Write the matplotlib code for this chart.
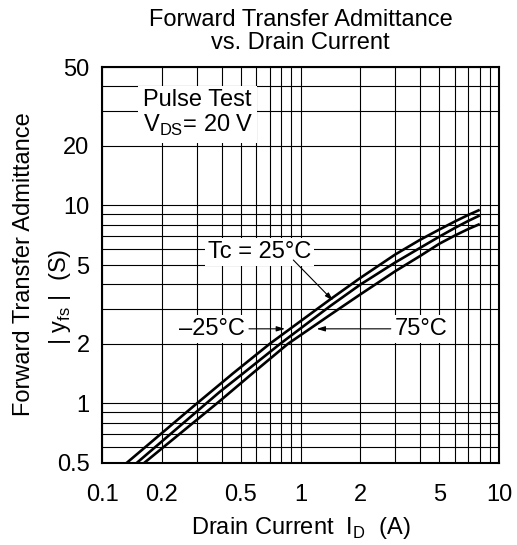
import matplotlib
matplotlib.use("Agg")
import matplotlib.pyplot as plt
from matplotlib.ticker import FixedLocator, NullFormatter

plt.rcParams['font.family'] = ['Liberation Sans', 'DejaVu Sans']
plt.rcParams['mathtext.fontset'] = 'custom'
plt.rcParams['mathtext.rm'] = 'Liberation Sans'

# drain current (A) and |yfs| (S)
id_m25 = [0.133, 0.29, 0.393, 0.458, 0.70, 1.41, 2, 3, 4, 5, 6, 7, 8]
yfs_m25 = [0.5, 0.97, 1.25, 1.42, 2.0, 3.35, 4.3, 5.65, 6.7, 7.55, 8.3, 8.95, 9.5]
id_25 = [0.1495, 0.393, 0.515, 0.79, 1.41, 2, 3, 4, 5, 6, 7, 8]
yfs_25 = [0.5, 1.146, 1.42, 2.0, 3.1, 3.98, 5.15, 6.1, 6.95, 7.7, 8.35, 8.9]
id_75 = [0.163, 0.393, 0.574, 0.865, 1.41, 2, 3, 4, 5, 6, 7, 8]
yfs_75 = [0.5, 1.03, 1.42, 2.0, 2.8, 3.55, 4.65, 5.55, 6.4, 7.05, 7.6, 8.05]

xticks = [0.1, 0.2, 0.5, 1, 2, 5, 10]
xlabels = ['0.1', '0.2', '0.5', '1', '2', '5', '10']
yticks = [0.5, 1, 2, 5, 10, 20, 50]
ylabels = ['0.5', '1', '2', '5', '10', '20', '50']
xgrid = [0.3, 0.4, 0.6, 0.7, 0.8, 0.9, 3, 4, 6, 7, 8, 9]
ygrid = [0.6, 0.7, 0.8, 0.9, 3, 4, 6, 7, 8, 9, 30, 40]

fs = 17
fig = plt.figure(figsize=(5.17, 5.45), dpi=100)
ax = fig.add_axes([0.1973, 0.1505, 0.7679, 0.7265])
ax.set_xscale('log')
ax.set_yscale('log')
ax.set_xlim(0.1, 10)
ax.set_ylim(0.5, 50)

ax.xaxis.set_major_locator(FixedLocator(xticks))
ax.xaxis.set_minor_locator(FixedLocator(xgrid))
ax.yaxis.set_major_locator(FixedLocator(yticks))
ax.yaxis.set_minor_locator(FixedLocator(ygrid))
ax.set_xticklabels(xlabels)
ax.set_yticklabels(ylabels)
ax.xaxis.set_minor_formatter(NullFormatter())
ax.yaxis.set_minor_formatter(NullFormatter())
ax.tick_params(which='both', length=0, labelsize=fs, colors='black')
ax.tick_params(axis='x', pad=15)
ax.tick_params(axis='y', pad=9)
ax.grid(True, which='both', color='black', lw=0.8)
ax.set_axisbelow(True)
for s in ax.spines.values():
    s.set_linewidth(1.5)

for xs, ys in [(id_m25, yfs_m25), (id_25, yfs_25), (id_75, yfs_75)]:
    ax.plot(xs, ys, color='black', lw=1.9, solid_capstyle='butt')

box = dict(facecolor='white', edgecolor='none', pad=2)
arr = dict(arrowstyle='-|>,head_length=0.5,head_width=0.15', color='black', lw=0.8,
           shrinkA=0, shrinkB=0)

ax.text(0.16, 29, 'Pulse Test\nV$_{\\mathregular{DS}}$= 20 V', fontsize=fs, ha='left', va='center',
        linespacing=1.1, bbox=dict(facecolor='white', edgecolor='none', pad=3))

ax.text(0.62, 5.8, 'Tc = 25°C', fontsize=fs, ha='center', va='center', bbox=box)
ax.annotate('', xy=(1.46, 3.3), xytext=(0.92, 5.3), arrowprops=arr)

ax.text(0.36, 2.38, '\u201325°C', fontsize=fs, ha='center', va='center', bbox=box)
ax.annotate('', xy=(0.836, 2.38), xytext=(0.55, 2.38), arrowprops=arr)

ax.text(4.04, 2.38, '75°C', fontsize=fs, ha='center', va='center', bbox=box)
ax.annotate('', xy=(1.205, 2.38), xytext=(2.85, 2.38), arrowprops=arr)

fig.text(0.581, 0.963, 'Forward Transfer Admittance', fontsize=fs, ha='center', va='center')
fig.text(0.581, 0.921, 'vs. Drain Current', fontsize=fs, ha='center', va='center')

fig.text(0.581, 0.031, 'Drain Current  I$_{\\mathregular{D}}$  (A)', fontsize=fs, ha='center', va='center')
fig.text(0.047, 0.515, 'Forward Transfer Admittance', fontsize=fs, ha='center', va='center',
         rotation=90)
fig.text(0.117, 0.455, '| y$_{\\mathregular{fs}}$ |  (S)', fontsize=fs, ha='center', va='center',
         rotation=90)

fig.savefig('out.png', dpi=100)
